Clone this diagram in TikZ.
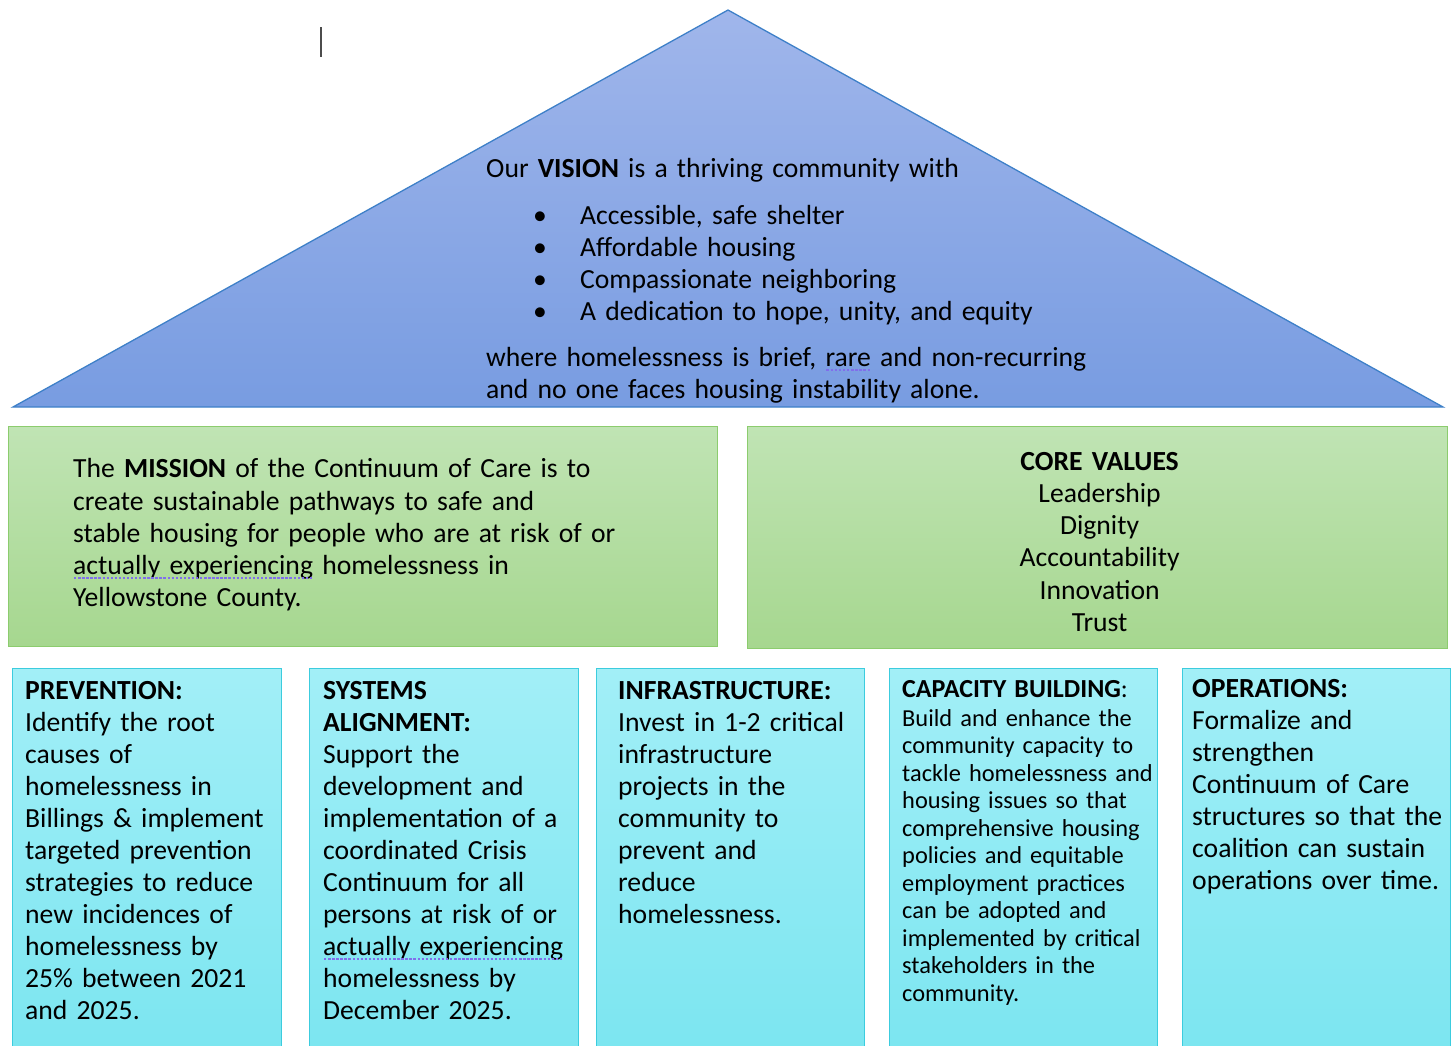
\documentclass[tikz,border=0pt]{standalone}
\usepackage{fontspec}
\setmainfont{Carlito}
\usetikzlibrary{positioning}

\definecolor{rooftop}{RGB}{160,182,235}
\definecolor{roofbottom}{RGB}{120,156,225}
\definecolor{roofline}{RGB}{62,128,200}
\definecolor{aimtop}{RGB}{192,228,180}
\definecolor{aimbottom}{RGB}{166,215,143}
\definecolor{aimline}{RGB}{140,204,110}
\definecolor{goaltop}{RGB}{162,239,247}
\definecolor{goalbottom}{RGB}{122,229,240}
\definecolor{goalline}{RGB}{60,204,222}
\definecolor{grammar}{RGB}{128,110,235}

\newcommand\bodyfont{\fontsize{27.65}{32}\selectfont}
\newcommand\smallbodyfont{\fontsize{24.4}{27.5}\selectfont}
\newcommand\grammark[1]{\leavevmode\sbox0{#1}\rlap{\usebox0}\raisebox{-4.5pt}{\color{grammar}\makebox[\wd0][l]{\xleaders\hbox to 4pt{\hss\rule{2.4pt}{2pt}\hss}\hskip\wd0}}}
\newcommand\visionitem[1]{\hspace*{47pt}\makebox[47pt][l]{\textbullet}#1}

\begin{document}
\begin{tikzpicture}[x=1pt,y=-1pt,node distance=10pt,
    roof/.style={draw=roofline,line width=1.3pt,top color=rooftop,bottom color=roofbottom},
    aim box/.style={draw=aimline,line width=1.2pt,top color=aimtop,bottom color=aimbottom,anchor=north west,inner sep=0,minimum width=#1,minimum height=220pt},
    goal box/.style={draw=goalline,line width=1.2pt,top color=goaltop,bottom color=goalbottom,anchor=north west,inner sep=0,minimum width=#1,minimum height=400pt},
    main text/.style={inner sep=0,align=left,text width=640pt,font=\bodyfont,execute at begin node=\strut},
    goal text/.style={inner sep=0,align=left,text width=300pt,font=\bodyfont,execute at begin node=\strut}]

    \useasboundingbox (0,0) rectangle (1454,1045);
    \clip (0,0) rectangle (1454,1045);

    \coordinate (caret top) at (321,27);
    \coordinate (caret bottom) at (321,57);
    \draw[gray!60!black,line width=1.5pt] (caret top) -- (caret bottom);

    \coordinate (apex) at (728,10);
    \coordinate (left eave) at (13,407);
    \coordinate (right eave) at (1443,407);
    \draw[roof] (left eave) -- (apex) -- (right eave) -- cycle;

    \node[main text,anchor=north west] (vision) at (486,155) {Our \textbf{VISION} is a thriving community with\\[15pt]
        \visionitem{Accessible, safe shelter}\\
        \visionitem{Affordable housing}\\
        \visionitem{Compassionate neighboring}\\
        \visionitem{A dedication to hope, unity, and equity}\\[14pt]
        where homelessness is brief, \grammark{rare} and non-recurring\\
        and no one faces housing instability alone.};

    \node[aim box=709pt] (mission) at (8,426) {};
    \node[aim box=700pt,minimum height=222pt] (values) at (747,426) {};

    \node[main text,font=\fontsize{27.65}{32.25}\selectfont,below right=29pt and 65pt of mission.north west] (mission text) {The \textbf{MISSION} of the Continuum of Care is to\\
        create sustainable pathways to safe and\\
        stable housing for people who are at risk of or\\
        \grammark{actually experiencing} homelessness in\\
        Yellowstone County.};
    \node[main text,font=\fontsize{27.65}{32.2}\selectfont,align=center,text width=400pt,below=21.5pt of values.north,xshift=2pt] (values text) {\textbf{CORE VALUES}\\
        Leadership\\
        Dignity\\
        Accountability\\
        Innovation\\
        Trust};

    \node[goal box=269pt] (prevention) at (12,668) {};
    \node[goal box=269pt] (systems) at (309,668) {};
    \node[goal box=268pt] (infra) at (596,668) {};
    \node[goal box=268pt] (capacity) at (889,668) {};
    \node[goal box=268pt] (operations) at (1182,668) {};

    \node[goal text,below right=8.6pt and 13pt of prevention.north west] (prevention text) {\textbf{PREVENTION:}\\
        Identify the root\\
        causes of\\
        homelessness in\\
        Billings \& implement\\
        targeted prevention\\
        strategies to reduce\\
        new incidences of\\
        homelessness by\\
        25\% between 2021\\
        and 2025.};
    \node[goal text,below right=8.6pt and 14pt of systems.north west] (systems text) {\textbf{SYSTEMS}\\
        \textbf{ALIGNMENT:}\\
        Support the\\
        development and\\
        implementation of a\\
        coordinated Crisis\\
        Continuum for all\\
        persons at risk of or\\
        \grammark{actually experiencing}\\
        homelessness by\\
        December 2025.};
    \node[goal text,below right=8.6pt and 22pt of infra.north west] (infra text) {\textbf{INFRASTRUCTURE:}\\
        Invest in 1-2 critical\\
        infrastructure\\
        projects in the\\
        community to\\
        prevent and\\
        reduce\\
        homelessness.};
    \node[goal text,font=\smallbodyfont,below right=9.75pt and 13pt of capacity.north west] (capacity text) {{\fontsize{26}{27.5}\selectfont\textbf{CAPACITY BUILDING}:}\\[1.5pt]
        Build and enhance the\\
        community capacity to\\
        tackle homelessness and\\
        housing issues so that\\
        comprehensive housing\\
        policies and equitable\\
        employment practices\\
        can be adopted and\\
        implemented by critical\\
        stakeholders in the\\
        community.};
    \node[goal text,below right=6.6pt and 10pt of operations.north west] (operations text) {\textbf{OPERATIONS:}\\
        Formalize and\\
        strengthen\\
        Continuum of Care\\
        structures so that the\\
        coalition can sustain\\
        operations over time.};

\end{tikzpicture}
\end{document}
